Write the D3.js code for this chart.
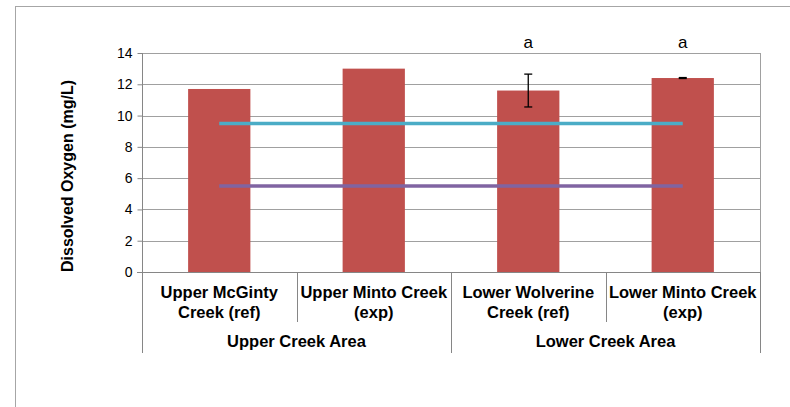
<!DOCTYPE html>
<html><head><meta charset="utf-8">
<script src="https://cdn.jsdelivr.net/npm/d3@7"></script>
<style>body{margin:0;background:#fff}svg{display:block;font-family:"Liberation Sans",Arial,sans-serif}</style>
</head><body><svg id="c" width="790" height="407"></svg>
<script>
const categories = [["Upper McGinty","Creek (ref)"],["Upper Minto Creek","(exp)"],["Lower Wolverine","Creek (ref)"],["Lower Minto Creek","(exp)"]];
const groups = ["Upper Creek Area","Lower Creek Area"];
const doValues = [11.7, 13.0, 11.6, 12.4];
const errors = [null, null, 1.05, 0.03];
const sigLabels = ["", "", "a", "a"];
const upperStandard = [9.5, 9.5, 9.5, 9.5];
const lowerStandard = [5.5, 5.5, 5.5, 5.5];
const yTicks = [0,2,4,6,8,10,12,14];

const FONT = "'Liberation Sans',Arial,sans-serif";
const svg = d3.select("#c");
const L = 142, R = 760, T = 53, B = 272;
const x = d3.scaleBand().domain(d3.range(categories.length)).range([L, R]).padding(0);
const y = d3.scaleLinear().domain([0,14]).range([B, T]);
const barW = x.bandwidth() * 0.403;
const cx = i => x(i) + x.bandwidth()/2;

// outer frame
svg.append("rect").attr("x",15.5).attr("y",6.5).attr("width",800).attr("height",420)
  .attr("fill","none").attr("stroke","#a6a6a6").attr("stroke-width",1);

// gridlines
svg.append("g").selectAll("line").data(yTicks.filter(d=>d>0)).join("line")
  .attr("x1",L).attr("x2",R).attr("y1",d=>Math.round(y(d))+0.5).attr("y2",d=>Math.round(y(d))+0.5)
  .attr("stroke","#a0a0a0").attr("stroke-width",1);
// right border
svg.append("line").attr("x1",R+0.5).attr("x2",R+0.5).attr("y1",T).attr("y2",B).attr("stroke","#a0a0a0");

// y axis
const ya = svg.append("g").attr("transform",`translate(${L+0.5},0)`)
  .call(d3.axisLeft(y).tickValues(yTicks).tickSize(5).tickPadding(5).tickFormat(d3.format("d")));
ya.select(".domain").attr("stroke","#868686").attr("d",`M0,${T}V${B}`);
ya.selectAll(".tick line").attr("stroke","#868686");
ya.selectAll(".tick text").attr("font-size",14).attr("fill","#000").attr("font-family",FONT);

// bars
svg.append("g").selectAll("rect").data(doValues).join("rect")
  .attr("x",(d,i)=>cx(i)-barW/2).attr("width",barW)
  .attr("y",d=>y(d)).attr("height",d=>B-y(d)).attr("fill","#c0504d");

// standard lines
const line = d3.line().x((d,i)=>cx(i)).y(d=>y(d));
svg.append("path").datum(upperStandard).attr("d",line).attr("fill","none").attr("stroke","#4bacc6").attr("stroke-width",3.5);
svg.append("path").datum(lowerStandard).attr("d",line).attr("fill","none").attr("stroke","#8064a2").attr("stroke-width",3.5);

// error bars
const eg = svg.append("g").attr("stroke","#000").attr("stroke-width",1.3);
doValues.forEach((v,i)=>{
  if(errors[i]==null) return;
  const e = errors[i], c = cx(i);
  eg.append("line").attr("x1",c).attr("x2",c).attr("y1",y(v+e)).attr("y2",y(v-e));
  eg.append("line").attr("x1",c-4).attr("x2",c+4).attr("y1",y(v+e)).attr("y2",y(v+e));
  eg.append("line").attr("x1",c-4).attr("x2",c+4).attr("y1",y(v-e)).attr("y2",y(v-e));
});

// significance labels
svg.append("g").selectAll("text").data(sigLabels).join("text")
  .attr("x",(d,i)=>cx(i)).attr("y",48).attr("text-anchor","middle").attr("font-size",17).text(d=>d);

// category axis
svg.append("line").attr("x1",L-5).attr("x2",R+0.5).attr("y1",B+0.5).attr("y2",B+0.5).attr("stroke","#868686");
const bounds = d3.range(categories.length+1).map(i => i<categories.length ? x(i) : R);
svg.append("g").selectAll("line").data(bounds).join("line")
  .attr("x1",d=>Math.round(d)+0.5).attr("x2",d=>Math.round(d)+0.5)
  .attr("y1",B).attr("y2",(d,i)=> i%2===0 ? 353 : 322).attr("stroke","#868686");

const ct = svg.append("g").attr("font-size",16.5).attr("font-weight","bold").attr("text-anchor","middle");
categories.forEach((lines,i)=>{
  lines.forEach((t,j)=>{
    ct.append("text").attr("x",cx(i)).attr("y",298+j*20).text(t);
  });
});
groups.forEach((g,k)=>{
  ct.append("text").attr("x",(bounds[k*2]+bounds[k*2+2])/2).attr("y",347).text(g);
});

// y title
svg.append("text").attr("transform","translate(73,176) rotate(-90)").attr("text-anchor","middle")
  .attr("font-size",16).attr("font-weight","bold").text("Dissolved Oxygen (mg/L)");
</script></body></html>
